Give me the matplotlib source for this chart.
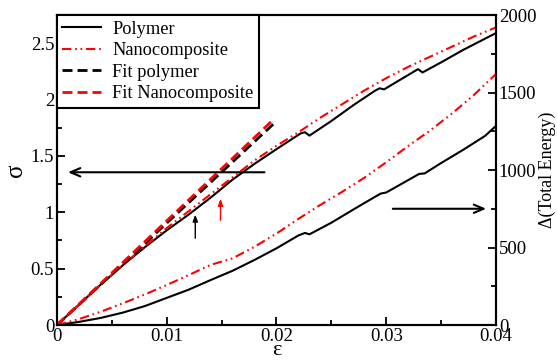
import matplotlib
matplotlib.use("Agg")
import matplotlib.pyplot as plt
from matplotlib.ticker import MultipleLocator

plt.rcParams["font.family"] = ["Liberation Serif", "DejaVu Serif"]
plt.rcParams["mathtext.fontset"] = "stix"

# stress-strain curves (left axis)
eps_poly = [0, 0.002, 0.004, 0.006, 0.008, 0.010, 0.012, 0.014, 0.016, 0.018,
            0.020, 0.0222, 0.0226, 0.0230, 0.025, 0.027, 0.029, 0.0294, 0.0298,
            0.031, 0.0329, 0.0333, 0.035, 0.037, 0.039, 0.040]
sigma_poly = [0, 0.18, 0.36, 0.53, 0.69, 0.84, 0.98, 1.13, 1.29, 1.43,
              1.56, 1.70, 1.71, 1.68, 1.81, 1.95, 2.08, 2.10, 2.09,
              2.16, 2.27, 2.24, 2.33, 2.44, 2.54, 2.59]

eps_nano = [0, 0.002, 0.004, 0.006, 0.008, 0.010, 0.012, 0.014, 0.016, 0.018,
            0.020, 0.022, 0.024, 0.026, 0.028, 0.030, 0.032, 0.034, 0.036,
            0.038, 0.040]
sigma_nano = [0, 0.18, 0.36, 0.53, 0.70, 0.86, 1.01, 1.16, 1.31, 1.46,
              1.59, 1.71, 1.84, 1.96, 2.08, 2.19, 2.29, 2.38, 2.47,
              2.56, 2.64]

# linear fits of the elastic region
eps_fit = [0, 0.0198]
sigma_fit_poly = [0, 1.79]
sigma_fit_nano = [0, 1.83]

# energy curves (right axis)
eps_energy_poly = [0, 0.002, 0.004, 0.006, 0.008, 0.010, 0.012, 0.014, 0.016,
                   0.018, 0.020, 0.022, 0.0226, 0.0230, 0.025, 0.027, 0.029,
                   0.0295, 0.030, 0.032, 0.033, 0.0335, 0.035, 0.037, 0.039,
                   0.040]
energy_poly = [0, 20, 46, 80, 122, 175, 228, 290, 350,
               420, 495, 578, 594, 585, 660, 745, 828,
               848, 855, 935, 975, 978, 1045, 1130, 1220,
               1285]
energy_nano = [0, 38, 86, 140, 197, 258, 322, 388, 430, 505, 590, 685, 775,
               860, 950, 1050, 1155, 1255, 1365, 1485, 1620]

fig = plt.figure(figsize=(5.57, 3.6), dpi=100)
ax = fig.add_axes([0.1023, 0.0972, 0.7882, 0.8611])
ax2 = ax.twinx()

dashdotdot = (4.5, 1.8, 0.8, 1.8, 0.8, 1.8)

l1, = ax.plot(eps_poly, sigma_poly, color="black", lw=1.5, label="Polymer")
l2, = ax.plot(eps_nano, sigma_nano, color="red", lw=1.5, dashes=dashdotdot,
              label="Nanocomposite")
l3, = ax.plot(eps_fit, sigma_fit_poly, color="black", lw=2, dashes=(3.6, 1.8),
              label="Fit polymer")
l4, = ax.plot(eps_fit, sigma_fit_nano, color="red", lw=2, dashes=(3.6, 1.8),
              label="Fit Nanocomposite")

ax2.plot(eps_energy_poly, energy_poly, color="black", lw=1.5)
ax2.plot(eps_nano, energy_nano, color="red", lw=1.5, dashes=dashdotdot)

ax.set_xlim(0, 0.04)
ax.set_ylim(0, 2.75)
ax2.set_ylim(0, 2000)

ax.xaxis.set_minor_locator(MultipleLocator(0.005))
ax.yaxis.set_minor_locator(MultipleLocator(0.25))
ax2.yaxis.set_major_locator(MultipleLocator(500))
ax2.yaxis.set_minor_locator(MultipleLocator(250))
ax.set_xticks([0, 0.01, 0.02, 0.03, 0.04])
ax.set_xticklabels(["0", "0.01", "0.02", "0.03", "0.04"])
ax.set_yticks([0, 0.5, 1, 1.5, 2, 2.5])
ax.set_yticklabels(["0", "0.5", "1", "1.5", "2", "2.5"])

for a in (ax, ax2):
    a.tick_params(which="both", direction="in", labelsize=13.5, width=1.3, pad=2)
    a.tick_params(which="major", length=6)
    a.tick_params(which="minor", length=3.5)
    for s in a.spines.values():
        s.set_linewidth(1.5)
ax.tick_params(top=False, right=False, which="both")
ax2.tick_params(axis="y", right=True, which="both")

ax.set_xlabel("ε", fontsize=16, labelpad=-3)
ax.set_ylabel("σ", fontsize=18, labelpad=3)
ax2.set_ylabel("Δ(Total Energy)", fontsize=13, labelpad=2)

# arrows pointing to the axis each curve pair belongs to
big_head = dict(arrowstyle="->,head_length=0.7,head_width=0.3", lw=1.5,
                color="black", shrinkA=0, shrinkB=0)
ax.annotate("", xy=(0.0010, 1.355), xytext=(0.0189, 1.355), arrowprops=big_head)
ax2.annotate("", xy=(0.0391, 750), xytext=(0.0306, 750), arrowprops=big_head)

# onset of yield
ax.annotate("", xy=(0.0126, 0.98), xytext=(0.0126, 0.77),
            arrowprops=dict(arrowstyle="-|>,head_length=0.4,head_width=0.15",
                            lw=1.0, color="black", shrinkA=0, shrinkB=0))
ax.annotate("", xy=(0.0149, 1.12), xytext=(0.0149, 0.93),
            arrowprops=dict(arrowstyle="-|>,head_length=0.4,head_width=0.15",
                            lw=1.0, color="red", shrinkA=0, shrinkB=0))

leg = ax2.legend([l1, l2, l3, l4], [l.get_label() for l in (l1, l2, l3, l4)],
                 loc="upper left", borderaxespad=0, fontsize=13.2,
                 fancybox=False, framealpha=1, edgecolor="black",
                 handlelength=2.1, handletextpad=0.6, labelspacing=0.25,
                 borderpad=0.3)
leg.get_frame().set_linewidth(1.5)

fig.savefig("out.png", dpi=100)
